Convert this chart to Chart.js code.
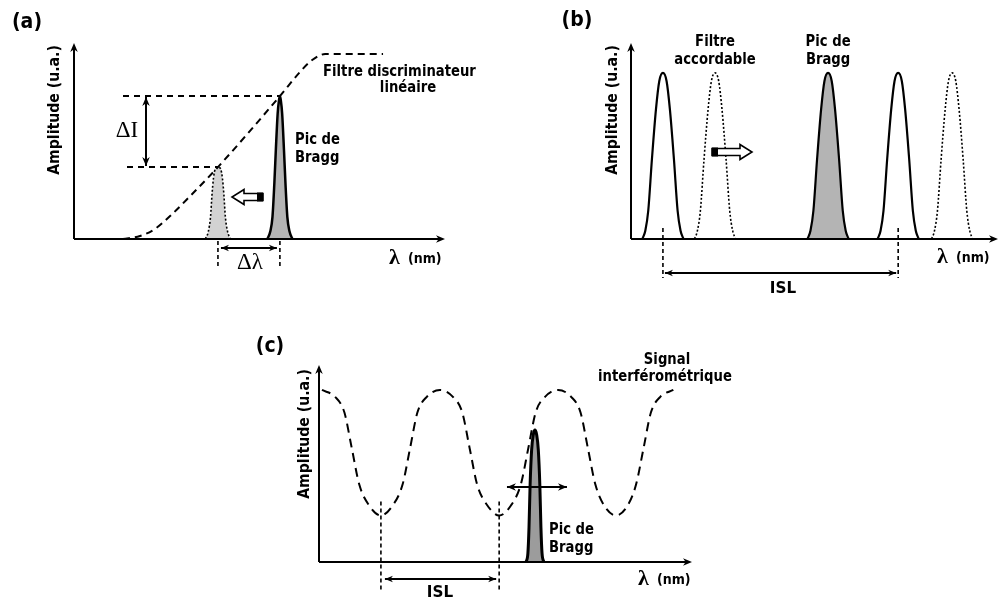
<!DOCTYPE html>
<html>
<head>
<meta charset="utf-8">
<script src="https://cdn.jsdelivr.net/npm/chart.js@4.4.0/dist/chart.umd.min.js"></script>
<style>
    html, body { margin: 0; padding: 0; background: #fff; }
    #wrap { position: relative; width: 1002px; height: 602px; overflow: hidden; background: #fff; }
    canvas { position: absolute; }
</style>
</head>
<body>
<div id="wrap">
    <canvas id="chartA" width="490" height="300" style="left:0;top:0"></canvas>
    <canvas id="chartB" width="512" height="300" style="left:490px;top:0"></canvas>
    <canvas id="chartC" width="520" height="302" style="left:240px;top:300px"></canvas>
</div>
<script>
// ---- data (x = wavelength, arbitrary units 0..100 ; y = amplitude, u.a.) ----

// (a) linear discriminator filter + Bragg peak
const aFilterX = [13.2, 17.8, 21.8, 25.9, 31.3, 38.8, 55.5, 60.9, 64.2, 67.7, 83.3];
const aFilterY = [0, 0.016, 0.054, 0.124, 0.232, 0.389, 0.773, 0.903, 0.968, 1.0, 1.0];
const aShiftedX = [35.4, 36.2, 36.8, 37.2, 37.6, 38.1, 38.8, 39.5, 40.0, 40.4, 40.8, 41.4, 42.2];
const aShiftedY = [0, 0.04, 0.12, 0.24, 0.33, 0.38, 0.389, 0.38, 0.33, 0.24, 0.12, 0.04, 0];
const aBraggX = [52.1, 52.9, 53.5, 54.0, 54.4, 54.9, 55.25, 55.5, 55.75, 56.1, 56.6, 57.0, 57.5, 58.1, 58.9];
const aBraggY = [0, 0.04, 0.12, 0.3, 0.48, 0.68, 0.75, 0.773, 0.75, 0.68, 0.48, 0.3, 0.12, 0.04, 0];

// (b) tunable filter peaks + Bragg peak (all drawn with the same profile)
const bPeakY = [0, 0.05, 0.17, 0.48, 0.78, 0.95, 1, 0.95, 0.78, 0.48, 0.17, 0.05, 0];
const bFilter1X = [3.1, 3.9, 4.7, 5.7, 6.8, 7.7, 8.7, 9.7, 10.6, 11.7, 12.7, 13.5, 14.3];
const bShifted1X = [17.3, 18.1, 18.9, 19.9, 21.0, 21.9, 22.9, 23.9, 24.8, 25.9, 26.9, 27.7, 28.5];
const bBraggX = [48.1, 48.9, 49.7, 50.7, 51.8, 52.7, 53.7, 54.7, 55.6, 56.7, 57.7, 58.5, 59.3];
const bFilter2X = [67.2, 68.0, 68.8, 69.8, 70.9, 71.8, 72.8, 73.8, 74.7, 75.8, 76.8, 77.6, 78.4];
const bShifted2X = [81.9, 82.7, 83.5, 84.5, 85.6, 86.5, 87.5, 88.5, 89.4, 90.5, 91.5, 92.3, 93.1];

// (c) interferometric signal + Bragg peak
const cSignalX = [0.8, 4.3, 6.8, 8.8, 10.8, 13.4, 16.6, 19.8, 22.4, 24.4, 26.4, 28.9,
                  32.4, 35.9, 38.4, 40.4, 42.4, 45.1, 48.3, 51.5, 54.1, 56.1, 58.1, 60.6,
                  64.1, 67.6, 70.1, 72.1, 74.1, 76.4, 79.6, 82.8, 85.0, 87.0, 89.0, 91.5, 95.0];
const cSignalY = [1.0, 0.96, 0.87, 0.66, 0.45, 0.33, 0.27, 0.33, 0.45, 0.66, 0.87, 0.96,
                  1.0, 0.96, 0.87, 0.66, 0.45, 0.33, 0.27, 0.33, 0.45, 0.66, 0.87, 0.96,
                  1.0, 0.96, 0.87, 0.66, 0.45, 0.33, 0.27, 0.33, 0.45, 0.66, 0.87, 0.96, 1.0];
const cBraggX = [55.5, 56.0, 56.3, 56.6, 57.0, 57.45, 57.9, 58.35, 58.8, 59.2, 59.5, 59.8, 60.3];
const cBraggY = [0, 0.05, 0.2, 0.45, 0.65, 0.74, 0.767, 0.74, 0.65, 0.45, 0.2, 0.05, 0];

const SANS = "'DejaVu Sans', sans-serif";
const SERIF = "'Liberation Serif', 'DejaVu Serif', serif";
const LBL = 'bold 15px ' + SANS;
const NARROW = 0.88;

function pts(xs, ys) {
    return xs.map((x, i) => ({ x: x, y: ys[i] }));
}

// ---- drawing helpers ----
function seg(ctx, x1, y1, x2, y2, w, dash) {
    ctx.save();
    ctx.lineWidth = w;
    ctx.strokeStyle = '#000';
    ctx.setLineDash(dash || []);
    ctx.beginPath();
    ctx.moveTo(x1, y1);
    ctx.lineTo(x2, y2);
    ctx.stroke();
    ctx.restore();
}

function head(ctx, x, y, ang, s) {
    ctx.save();
    ctx.translate(x, y);
    ctx.rotate(ang);
    ctx.fillStyle = '#000';
    ctx.beginPath();
    ctx.moveTo(0, 0);
    ctx.lineTo(-s, -s * 0.42);
    ctx.lineTo(-s * 0.7, 0);
    ctx.lineTo(-s, s * 0.42);
    ctx.closePath();
    ctx.fill();
    ctx.restore();
}

function arrow(ctx, x1, y1, x2, y2, both, w, s) {
    const a = Math.atan2(y2 - y1, x2 - x1);
    seg(ctx, x1, y1, x2, y2, w || 2);
    head(ctx, x2, y2, a, s || 9);
    if (both) head(ctx, x1, y1, a + Math.PI, s || 9);
}

// outlined block arrow with a black tail
function hollow(ctx, tail, tip, y) {
    const len = Math.abs(tip - tail);
    ctx.save();
    ctx.translate(tail, y);
    ctx.scale(tip > tail ? 1 : -1, 1);
    ctx.lineWidth = 1.6;
    ctx.strokeStyle = '#000';
    ctx.fillStyle = '#fff';
    const hl = 12, sh = 3.5, hh = 7.5;
    ctx.beginPath();
    ctx.moveTo(0, -sh);
    ctx.lineTo(len - hl, -sh);
    ctx.lineTo(len - hl, -hh);
    ctx.lineTo(len, 0);
    ctx.lineTo(len - hl, hh);
    ctx.lineTo(len - hl, sh);
    ctx.lineTo(0, sh);
    ctx.closePath();
    ctx.fill();
    ctx.stroke();
    ctx.fillStyle = '#000';
    ctx.fillRect(0, -sh - 1, 6, 2 * sh + 2);
    ctx.restore();
}

function txt(ctx, s, x, y, font, align, sx) {
    ctx.save();
    ctx.translate(x, y);
    ctx.scale(sx || 1, 1);
    ctx.font = font;
    ctx.fillStyle = '#000';
    ctx.textAlign = align || 'center';
    ctx.textBaseline = 'middle';
    ctx.fillText(s, 0, 0);
    ctx.restore();
}

function vtxt(ctx, s, x, y) {
    ctx.save();
    ctx.translate(x, y);
    ctx.rotate(-Math.PI / 2);
    txt(ctx, s, 0, 0, 'bold 16px ' + SANS, 'center', 0.88);
    ctx.restore();
}

function lambdaLabel(ctx, x, y) {
    txt(ctx, 'λ', x, y - 1, 'bold 22px ' + SERIF, 'left');
    txt(ctx, '(nm)', x + 19, y, 'bold 14px ' + SANS, 'left', 0.9);
}

function drawAxes(chart) {
    const ctx = chart.ctx;
    const { left, right, top, bottom } = chart.chartArea;
    seg(ctx, left, bottom, right - 4, bottom, 2);
    head(ctx, right, bottom, 0, 9);
    seg(ctx, left, bottom, left, top + 4, 2);
    head(ctx, left, top, -Math.PI / 2, 9);
}

function makeChart(id, pad, yMax, datasets, extras) {
    return new Chart(document.getElementById(id), {
        type: 'line',
        data: { datasets: datasets },
        options: {
            responsive: false,
            animation: false,
            layout: { padding: pad },
            plugins: {
                legend: { display: false },
                tooltip: { enabled: false }
            },
            elements: {
                point: { radius: 0 },
                line: { cubicInterpolationMode: 'monotone', borderColor: '#000' }
            },
            scales: {
                x: { type: 'linear', min: 0, max: 100, display: false },
                y: { type: 'linear', min: 0, max: yMax, display: false }
            }
        },
        plugins: [{
            id: 'schema',
            afterDatasetsDraw: (chart) => {
                drawAxes(chart);
                extras(chart, chart.ctx);
            }
        }]
    });
}

// ---- (a) ----
makeChart('chartA', { left: 74, top: 43, right: 45, bottom: 61 }, 1.06, [
    { data: pts(aFilterX, aFilterY), borderWidth: 2, borderDash: [7, 5], fill: false, order: 1 },
    { data: pts(aShiftedX, aShiftedY), borderWidth: 1.6, borderDash: [2, 2], fill: 'origin',
      backgroundColor: '#d2d2d2', order: 3 },
    { data: pts(aBraggX, aBraggY), borderWidth: 2.5, fill: 'origin', backgroundColor: '#b4b4b4', order: 2 }
], (chart, ctx) => {
    const sx = chart.scales.x, sy = chart.scales.y;
    const xs = sx.getPixelForValue(aShiftedX[6]);
    const xb = sx.getPixelForValue(aBraggX[7]);
    const yHi = sy.getPixelForValue(Math.max(...aBraggY));
    const yLo = sy.getPixelForValue(Math.max(...aShiftedY));
    const base = chart.chartArea.bottom;

    seg(ctx, 123, yHi, xb, yHi, 2, [6, 5]);
    seg(ctx, 127, yLo, xs, yLo, 2, [6, 5]);
    arrow(ctx, 146, yHi + 1, 146, yLo - 1, true, 2, 9);
    txt(ctx, 'ΔI', 127, 131, '23px ' + SERIF);

    hollow(ctx, 263, 232, 197);

    seg(ctx, xs, base + 2, xs, 268, 1.6, [4, 3]);
    seg(ctx, xb, base + 2, xb, 268, 1.6, [4, 3]);
    arrow(ctx, xs + 3, 248, xb - 3, 248, true, 2, 8);
    txt(ctx, 'Δλ', 250, 263, '23px ' + SERIF);

    txt(ctx, 'Pic de', 295, 140, LBL, 'left', NARROW);
    txt(ctx, 'Bragg', 295, 158, LBL, 'left', NARROW);
    txt(ctx, 'Filtre discriminateur', 323, 72, LBL, 'left', NARROW);
    txt(ctx, 'linéaire', 408, 88, LBL, 'center', NARROW);

    lambdaLabel(ctx, 389, 259);
    vtxt(ctx, 'Amplitude (u.a.)', 55, 110);
    txt(ctx, '(a)', 27, 23, 'bold 21px ' + SANS, 'center', 0.9);
});

// ---- (b) ----
makeChart('chartB', { left: 141, top: 43, right: 4, bottom: 61 }, 1.18, [
    { data: pts(bFilter1X, bPeakY), borderWidth: 2.2, fill: false },
    { data: pts(bShifted1X, bPeakY), borderWidth: 1.6, borderDash: [2, 2], fill: false },
    { data: pts(bBraggX, bPeakY), borderWidth: 2.2, fill: 'origin', backgroundColor: '#b4b4b4' },
    { data: pts(bFilter2X, bPeakY), borderWidth: 2.2, fill: false },
    { data: pts(bShifted2X, bPeakY), borderWidth: 1.6, borderDash: [2, 2], fill: false }
], (chart, ctx) => {
    const ox = 490;
    const sx = chart.scales.x;
    const x1 = sx.getPixelForValue(bFilter1X[6]);
    const x2 = sx.getPixelForValue(bFilter2X[6]);
    const xs = sx.getPixelForValue(bShifted1X[6]);
    const xb = sx.getPixelForValue(bBraggX[6]);

    seg(ctx, x1, 228, x1, 278, 1.6, [4, 3]);
    seg(ctx, x2, 228, x2, 278, 1.6, [4, 3]);
    arrow(ctx, x1 + 2, 273, x2 - 2, 273, true, 2, 8);
    txt(ctx, 'ISL', 783 - ox, 289, 'bold 16px ' + SANS, 'center', 0.95);

    txt(ctx, 'Filtre', xs, 42, LBL, 'center', NARROW);
    txt(ctx, 'accordable', xs, 60, LBL, 'center', NARROW);
    txt(ctx, 'Pic de', xb, 42, LBL, 'center', NARROW);
    txt(ctx, 'Bragg', xb, 60, LBL, 'center', NARROW);

    hollow(ctx, 712 - ox, 752 - ox, 152);

    lambdaLabel(ctx, 937 - ox, 258);
    vtxt(ctx, 'Amplitude (u.a.)', 613 - ox, 110);
    txt(ctx, '(b)', 577 - ox, 21, 'bold 21px ' + SANS, 'center', 0.9);
});

// ---- (c) ----
makeChart('chartC', { left: 79, top: 65, right: 68, bottom: 40 }, 1.145, [
    { data: pts(cBraggX, cBraggY), borderWidth: 3, fill: 'origin', backgroundColor: '#9c9c9c', order: 1 },
    { data: pts(cSignalX, cSignalY), borderWidth: 2, borderDash: [9, 6], fill: false, order: 2 }
], (chart, ctx) => {
    const ox = 240, oy = 300;
    const sx = chart.scales.x, sy = chart.scales.y;
    const m1 = sx.getPixelForValue(cSignalX[6]);
    const m2 = sx.getPixelForValue(cSignalX[18]);
    const yMin = sy.getPixelForValue(cSignalY[6]);
    const xb = sx.getPixelForValue(cBraggX[6]);

    arrow(ctx, xb - 28, 487 - oy, xb + 32, 487 - oy, true, 2, 9);

    seg(ctx, m1, yMin - 14, m1, 590 - oy, 1.6, [4, 3]);
    seg(ctx, m2, yMin - 14, m2, 590 - oy, 1.6, [4, 3]);
    arrow(ctx, m1 + 4, 579 - oy, m2 - 3, 579 - oy, true, 2, 8);
    txt(ctx, 'ISL', 440 - ox, 593 - oy, 'bold 16px ' + SANS, 'center', 0.95);

    txt(ctx, 'Pic de', 549 - ox, 530 - oy, LBL, 'left', NARROW);
    txt(ctx, 'Bragg', 549 - ox, 548 - oy, LBL, 'left', NARROW);
    txt(ctx, 'Signal', 667 - ox, 360 - oy, LBL, 'center', NARROW);
    txt(ctx, 'interférométrique', 665 - ox, 377 - oy, LBL, 'center', NARROW);

    lambdaLabel(ctx, 638 - ox, 580 - oy);
    vtxt(ctx, 'Amplitude (u.a.)', 305 - ox, 434 - oy);
    txt(ctx, '(c)', 270 - ox, 347 - oy, 'bold 21px ' + SANS, 'center', 0.9);
});
</script>
</body>
</html>
